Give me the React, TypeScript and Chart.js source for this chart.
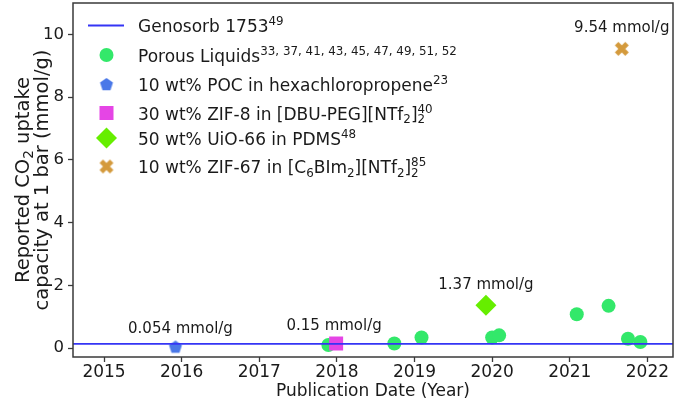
import React, { useEffect, useRef } from 'react';
import { Chart, registerables } from 'chart.js';

Chart.register(...registerables);

// ---------------- data ----------------
const xTickYears = [2015, 2016, 2017, 2018, 2019, 2020, 2021, 2022];
const yTickValues = [0, 2, 4, 6, 8, 10];
const xLimits = [2014.6, 2022.33];
const yLimits = [-0.28, 11.0];

const genosorbUptake = 0.14;

const porousYears = [2017.89, 2018.74, 2019.09, 2020.0, 2020.09, 2021.09, 2021.5, 2021.75, 2021.91];
const porousUptake = [0.1, 0.15, 0.34, 0.34, 0.41, 1.08, 1.35, 0.3, 0.2];

const pocYears = [2015.92];
const pocUptake = [0.054];

const zif8Years = [2017.99];
const zif8Uptake = [0.15];

const uioYears = [2019.92];
const uioUptake = [1.37];

const zif67Years = [2021.67];
const zif67Uptake = [9.54];

const legendLabels = [
  'Genosorb 1753^{49}',
  'Porous Liquids^{33, 37, 41, 43, 45, 47, 49, 51, 52}',
  '10 wt% POC in hexachloropropene^{23}',
  '30 wt% ZIF-8 in [DBU-PEG][NTf_{2}]_{2}^{40}',
  '50 wt% UiO-66 in PDMS^{48}',
  '10 wt% ZIF-67 in [C_{6}BIm_{2}][NTf_{2}]_{2}^{85}',
];

const annotationTexts = ['0.054 mmol/g', '0.15 mmol/g', '1.37 mmol/g', '9.54 mmol/g'];
const xAxisTitle = 'Publication Date (Year)';
const yAxisTitleLines = ['Reported CO_{2} uptake', 'capacity at 1 bar (mmol/g)'];

// ---------------- styles ----------------
const FONT = '"DejaVu Sans", sans-serif';
const TEXT = '#1a1a1a';
const FRAME = '#3a3a3a';
const C_LINE = '#3535f5';
const C_GREEN = '#33e86a';
const C_POC = '#4a78e8';
const C_ZIF8 = '#e545e5';
const C_UIO = '#66ee00';
const C_ZIF67 = '#d49a3c';

function makePentagon(R: number, color: string) {
  const c = document.createElement('canvas');
  const s = Math.ceil(2 * R + 2);
  c.width = s; c.height = s;
  const g = c.getContext('2d')!;
  const cx = s / 2, cy = s / 2 + R * 0.1;
  g.beginPath();
  for (let i = 0; i < 5; i++) {
    const a = -Math.PI / 2 + (i * 2 * Math.PI) / 5;
    const px = cx + R * Math.cos(a), py = cy + R * Math.sin(a);
    if (i === 0) g.moveTo(px, py); else g.lineTo(px, py);
  }
  g.closePath();
  g.fillStyle = color;
  g.fill();
  return c;
}

function makeThickX(half: number, width: number, color: string) {
  const c = document.createElement('canvas');
  const s = Math.ceil(2 * half + width + 2);
  c.width = s; c.height = s;
  const g = c.getContext('2d')!;
  const m = s / 2;
  g.strokeStyle = color;
  g.lineWidth = width;
  g.lineCap = 'butt';
  g.beginPath();
  g.moveTo(m - half, m - half); g.lineTo(m + half, m + half);
  g.moveTo(m + half, m - half); g.lineTo(m - half, m + half);
  g.stroke();
  return c;
}

type Seg = { t: string; k: 'n' | 'sup' | 'sub' };
function parseRich(text: string): Seg[] {
  const segs: Seg[] = [];
  const re = /(\^|_)\{([^}]*)\}/g;
  let last = 0;
  let m: RegExpExecArray | null;
  while ((m = re.exec(text))) {
    if (m.index > last) segs.push({ t: text.slice(last, m.index), k: 'n' });
    segs.push({ t: m[2], k: m[1] === '^' ? 'sup' : 'sub' });
    last = re.lastIndex;
  }
  if (last < text.length) segs.push({ t: text.slice(last), k: 'n' });
  return segs;
}

function drawRich(ctx: CanvasRenderingContext2D, text: string, x: number, cy: number, size: number, align: 'left' | 'center') {
  const segs = parseRich(text);
  const small = size * 0.7;
  const items: { t: string; fs: number; x: number; dy: number }[] = [];
  let cur = 0;
  let subStart: number | null = null;
  for (const s of segs) {
    const fs = s.k === 'n' ? size : small;
    ctx.font = `${fs}px ${FONT}`;
    const w = ctx.measureText(s.t).width;
    const dy = s.k === 'sup' ? -0.4 * size : s.k === 'sub' ? 0.22 * size : 0;
    if (s.k === 'sup' && subStart !== null) {
      items.push({ t: s.t, fs, x: subStart, dy });
      cur = Math.max(cur, subStart + w);
      subStart = null;
      continue;
    }
    items.push({ t: s.t, fs, x: cur, dy });
    subStart = s.k === 'sub' ? cur : null;
    cur += w;
  }
  const x0 = align === 'center' ? x - cur / 2 : x;
  const base = cy + 0.36 * size;
  ctx.fillStyle = TEXT;
  ctx.textAlign = 'left';
  ctx.textBaseline = 'alphabetic';
  for (const it of items) {
    ctx.font = `${it.fs}px ${FONT}`;
    ctx.fillText(it.t, x0 + it.x, base + it.dy);
  }
}

const toPts = (xs: number[], ys: number[]) => xs.map((x, i) => ({ x, y: ys[i] }));

export default function App() {
  const ref = useRef<HTMLCanvasElement>(null);

  useEffect(() => {
    document.body.style.margin = '0';
    const canvas = ref.current!;
    const pentagon = makePentagon(6.8, C_POC);
    const thickX = makeThickX(5.2, 5, C_ZIF67);

    const framePlugin = {
      id: 'frame',
      afterDatasetsDraw(chart: any) {
        const { ctx, chartArea: a } = chart;
        ctx.save();
        ctx.strokeStyle = FRAME;
        ctx.lineWidth = 1.5;
        ctx.strokeRect(a.left, a.top, a.right - a.left, a.bottom - a.top);
        ctx.restore();
      },
    };

    const annotationOffsets = [
      { dx: 5, dy: -19 },
      { dx: -2, dy: -19 },
      { dx: 0, dy: -22 },
      { dx: 0, dy: -22 },
    ];
    const annotationPoints = [
      { x: pocYears[0], y: pocUptake[0] },
      { x: zif8Years[0], y: zif8Uptake[0] },
      { x: uioYears[0], y: uioUptake[0] },
      { x: zif67Years[0], y: zif67Uptake[0] },
    ];

    const textPlugin = {
      id: 'texts',
      afterDraw(chart: any) {
        const { ctx, scales, chartArea: a } = chart;
        ctx.save();
        annotationTexts.forEach((t, i) => {
          const px = scales.x.getPixelForValue(annotationPoints[i].x) + annotationOffsets[i].dx;
          const py = scales.y.getPixelForValue(annotationPoints[i].y) + annotationOffsets[i].dy;
          drawRich(ctx, t, px, py, 15, 'center');
        });
        const mx = 106.5;
        const rows = [25.5, 55, 84, 113, 138, 166.5];
        const tx = 138;
        ctx.strokeStyle = C_LINE;
        ctx.lineWidth = 1.8;
        ctx.beginPath();
        ctx.moveTo(88, rows[0]);
        ctx.lineTo(124, rows[0]);
        ctx.stroke();
        ctx.fillStyle = C_GREEN;
        ctx.beginPath();
        ctx.arc(mx, rows[1], 7, 0, Math.PI * 2);
        ctx.fill();
        ctx.drawImage(pentagon, mx - pentagon.width / 2, rows[2] - pentagon.height / 2);
        ctx.fillStyle = C_ZIF8;
        ctx.fillRect(mx - 7, rows[3] - 7, 14, 14);
        ctx.fillStyle = C_UIO;
        ctx.beginPath();
        ctx.moveTo(mx, rows[4] - 10.5);
        ctx.lineTo(mx + 10.5, rows[4]);
        ctx.lineTo(mx, rows[4] + 10.5);
        ctx.lineTo(mx - 10.5, rows[4]);
        ctx.closePath();
        ctx.fill();
        ctx.drawImage(thickX, mx - thickX.width / 2, rows[5] - thickX.height / 2);
        legendLabels.forEach((t, i) => drawRich(ctx, t, tx, rows[i] + 0.5, 17, 'left'));
        const cy = (a.top + a.bottom) / 2;
        const cols = [22, 41];
        yAxisTitleLines.forEach((t, i) => {
          ctx.save();
          ctx.translate(cols[i], cy);
          ctx.rotate(-Math.PI / 2);
          drawRich(ctx, t, 0, 0, 19.5, 'center');
          ctx.restore();
        });
        ctx.restore();
      },
    };

    const xFont = { family: FONT, size: 17 };
    const yFont = { family: FONT, size: 16.5 };

    const chart = new Chart(canvas, {
      type: 'scatter',
      data: {
        datasets: [
          {
            type: 'line',
            label: 'Genosorb 1753',
            data: [
              { x: xLimits[0], y: genosorbUptake },
              { x: xLimits[1], y: genosorbUptake },
            ],
            borderColor: C_LINE,
            borderWidth: 1.8,
            pointRadius: 0,
            order: 0,
          } as any,
          {
            label: 'Porous Liquids',
            data: toPts(porousYears, porousUptake),
            backgroundColor: C_GREEN,
            borderWidth: 0,
            pointRadius: 7,
            pointStyle: 'circle',
            order: 6,
          },
          {
            label: 'POC',
            data: toPts(pocYears, pocUptake),
            pointStyle: pentagon as any,
            order: 5,
          },
          {
            label: 'ZIF-8',
            data: toPts(zif8Years, zif8Uptake),
            backgroundColor: C_ZIF8,
            borderWidth: 0,
            pointRadius: 9.9,
            pointStyle: 'rect',
            order: 4,
          },
          {
            label: 'UiO-66',
            data: toPts(uioYears, uioUptake),
            backgroundColor: C_UIO,
            borderWidth: 0,
            pointRadius: 10.5,
            pointStyle: 'rectRot',
            order: 3,
          },
          {
            label: 'ZIF-67',
            data: toPts(zif67Years, zif67Uptake),
            pointStyle: thickX as any,
            order: 2,
          },
        ],
      },
      options: {
        responsive: false,
        animation: false,
        events: [],
        layout: { autoPadding: false, padding: { top: 3, right: 9, left: 0, bottom: 0 } },
        plugins: { legend: { display: false }, tooltip: { enabled: false } },
        scales: {
          x: {
            type: 'linear',
            min: xLimits[0],
            max: xLimits[1],
            afterBuildTicks: (s: any) => {
              s.ticks = xTickYears.map((v) => ({ value: v }));
            },
            afterFit: (s: any) => {
              s.height = 47;
              s.paddingLeft = 0;
              s.paddingRight = 0;
            },
            ticks: {
              callback: (v: any) => String(v),
              font: xFont,
              color: TEXT,
              padding: 0,
              maxRotation: 0,
              autoSkip: false,
            },
            grid: {
              drawOnChartArea: false,
              drawTicks: true,
              tickLength: 5,
              color: FRAME,
              tickWidth: 1.3,
            },
            border: { display: false },
            title: {
              display: true,
              text: xAxisTitle,
              font: xFont,
              color: TEXT,
              padding: { top: 0, bottom: 2 },
            },
          },
          y: {
            type: 'linear',
            min: yLimits[0],
            max: yLimits[1],
            afterBuildTicks: (s: any) => {
              s.ticks = yTickValues.map((v) => ({ value: v }));
            },
            afterFit: (s: any) => {
              s.width = 73;
              s.paddingTop = 0;
              s.paddingBottom = 0;
            },
            ticks: {
              callback: (v: any) => String(v),
              font: yFont,
              color: TEXT,
              padding: 4,
              autoSkip: false,
            },
            grid: {
              drawOnChartArea: false,
              drawTicks: true,
              tickLength: 5,
              color: FRAME,
              tickWidth: 1.3,
            },
            border: { display: false },
          },
        },
      },
      plugins: [framePlugin, textPlugin],
    } as any);

    return () => chart.destroy();
  }, []);

  return <canvas ref={ref} width={682} height={404} style={{ display: 'block' }} />;
}
